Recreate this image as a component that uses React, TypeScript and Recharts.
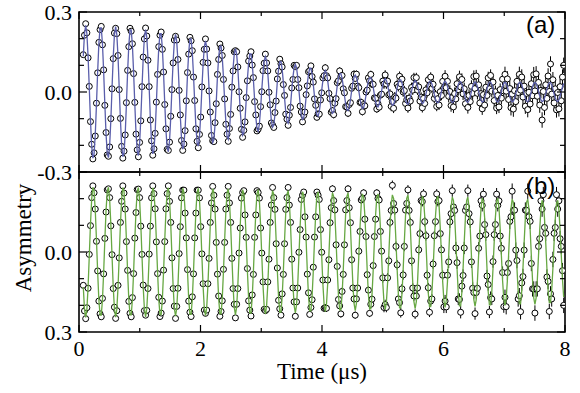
import { ComposedChart, Line, Scatter, ErrorBar, XAxis, YAxis, ReferenceArea } from 'recharts'

// time grid of the histogram bins (µs)
const T0 = 0.0706
const DT = 0.01972

const timeTicks = [0, 1, 2, 3, 4, 5, 6, 7, 8]
const asymTicks = [-0.3, -0.2, -0.1, 0, 0.1, 0.2, 0.3]

// error bar half-length for each microsecond of the time window
const errorByMicrosecond = [0.006, 0.007, 0.009, 0.011, 0.014, 0.018, 0.023, 0.029]

// panel (a): measured asymmetry
const asymA = [
  0.14, 0.213, 0.256, 0.222, 0.128, 0.021, -0.111, -0.196, -0.251, -0.228, -0.165, -0.042, 0.072, 0.186, 0.234, 0.246, 0.177, 0.083, -0.05, -0.152, -0.236, -0.241, -0.206, -0.1, 0.012,
  0.125, 0.221, 0.239, 0.219, 0.137, 0.009, -0.099, -0.204, -0.248, -0.222, -0.161, -0.04, 0.081, 0.17, 0.239, 0.228, 0.181, 0.069, -0.039, -0.158, -0.217, -0.243, -0.189, -0.108, 0.02,
  0.131, 0.199, 0.24, 0.21, 0.119, 0.02, -0.105, -0.183, -0.237, -0.213, -0.155, -0.038, 0.066, 0.17, 0.213, 0.225, 0.16, 0.075, -0.047, -0.138, -0.215, -0.219, -0.188, -0.091, 0.009,
  0.109, 0.195, 0.209, 0.195, 0.122, 0.006, -0.086, -0.182, -0.219, -0.195, -0.145, -0.033, 0.073, 0.142, 0.205, 0.192, 0.155, 0.056, -0.032, -0.138, -0.185, -0.209, -0.159, -0.094, 0.019,
  0.111, 0.16, 0.199, 0.161, 0.109, 0.004, -0.075, -0.163, -0.183, -0.186, -0.115, -0.044, 0.066, 0.122, 0.18, 0.165, 0.137, 0.047, -0.026, -0.121, -0.158, -0.185, -0.137, -0.084, 0.018,
  0.079, 0.151, 0.155, 0.151, 0.094, 0.001, -0.061, -0.14, -0.17, -0.144, -0.112, -0.021, 0.042, 0.116, 0.135, 0.151, 0.101, 0.054, -0.036, -0.086, -0.146, -0.139, -0.128, -0.055, 0.001,
  0.08, 0.108, 0.142, 0.109, 0.079, -0.001, -0.048, -0.116, -0.124, -0.133, -0.077, -0.034, 0.049, 0.078, 0.123, 0.106, 0.094, 0.028, -0.013, -0.083, -0.102, -0.125, -0.087, -0.058, 0.015,
  0.047, 0.1, 0.095, 0.1, 0.047, 0.016, -0.053, -0.075, -0.112, -0.088, -0.075, -0.01, 0.023, 0.076, 0.08, 0.098, 0.058, 0.037, -0.026, -0.05, -0.095, -0.082, -0.083, -0.03, -0.003,
  0.053, 0.061, 0.091, 0.061, 0.053, -0.005, -0.025, -0.076, -0.07, -0.085, -0.042, -0.025, 0.035, 0.042, 0.079, 0.059, 0.062, 0.012, -0.003, -0.055, -0.056, -0.08, -0.047, -0.04, 0.014,
  0.022, 0.067, 0.051, 0.067, 0.022, 0.016, -0.039, -0.039, -0.074, -0.047, -0.052, 0.0, 0.007, 0.053, 0.042, 0.066, 0.029, 0.029, -0.022, -0.024, -0.064, -0.044, -0.057, -0.012, -0.008,
  0.041, 0.03, 0.064, 0.03, 0.041, -0.011, -0.007, -0.054, -0.036, -0.061, -0.018, -0.023, 0.029, 0.02, 0.059, 0.031, 0.048, 0.0, 0.005, -0.043, -0.029, -0.06, -0.023, -0.034, 0.017,
  0.007, 0.054, 0.027, 0.054, 0.007, 0.019, -0.034, -0.019, -0.059, -0.024, -0.043, 0.008, -0.003, 0.046, 0.024, 0.056, 0.014, 0.029, -0.024, -0.01, -0.054, -0.025, -0.049, 0.001, -0.013,
  0.04, 0.016, 0.059, 0.016, 0.04, -0.016, 0.002, -0.051, -0.021, -0.056, -0.006, -0.026, 0.031, 0.009, 0.057, 0.019, 0.047, -0.007, 0.012, -0.044, -0.017, -0.058, -0.013, -0.036, 0.021,
  -0.005, 0.058, 0.013, 0.06, -0.005, 0.027, -0.041, -0.006, -0.063, -0.01, -0.049, 0.018, -0.013, 0.053, 0.012, 0.062, 0.003, 0.037, -0.032, 0.001, -0.06, -0.013, -0.056, 0.009, -0.023,
  0.048, 0.004, 0.066, 0.003, 0.049, -0.028, 0.013, -0.059, -0.008, -0.064, 0.005, -0.036, 0.04, -0.002, 0.066, 0.007, 0.056, -0.019, 0.022, -0.053, -0.005, -0.066, -0.001, -0.045, 0.031,
  -0.014, 0.065, 0.004, 0.068, -0.016, 0.036, -0.049, 0.006, -0.105, 0.002, -0.058, 0.027, -0.024, 0.06, 0.002, 0.105, -0.008, 0.046, -0.041, 0.012, -0.067, -0.002, -0.063, 0.02, -0.033,
  0.056, 0.1,
]

// panel (a): fit curve at the same bins
const fitA = [
  0.134, 0.219, 0.25, 0.219, 0.134, 0.016, -0.107, -0.202, -0.248, -0.233, -0.159, -0.047, 0.077, 0.181, 0.24, 0.24, 0.181, 0.077, -0.046, -0.158, -0.231, -0.246, -0.201, -0.106, 0.016,
  0.131, 0.215, 0.245, 0.215, 0.131, 0.015, -0.104, -0.198, -0.243, -0.228, -0.156, -0.046, 0.076, 0.175, 0.233, 0.233, 0.175, 0.074, -0.045, -0.153, -0.223, -0.238, -0.194, -0.102, 0.015,
  0.125, 0.205, 0.234, 0.205, 0.125, 0.015, -0.1, -0.189, -0.232, -0.218, -0.149, -0.044, 0.072, 0.165, 0.219, 0.219, 0.165, 0.07, -0.042, -0.144, -0.21, -0.224, -0.183, -0.096, 0.014,
  0.116, 0.189, 0.216, 0.189, 0.116, 0.014, -0.092, -0.175, -0.214, -0.201, -0.138, -0.04, 0.067, 0.149, 0.199, 0.199, 0.149, 0.063, -0.038, -0.131, -0.191, -0.203, -0.166, -0.087, 0.013,
  0.103, 0.168, 0.192, 0.168, 0.103, 0.012, -0.082, -0.155, -0.19, -0.179, -0.122, -0.036, 0.059, 0.13, 0.172, 0.172, 0.13, 0.055, -0.033, -0.113, -0.166, -0.177, -0.144, -0.076, 0.011,
  0.087, 0.143, 0.163, 0.143, 0.087, 0.01, -0.069, -0.132, -0.162, -0.152, -0.104, -0.03, 0.05, 0.108, 0.143, 0.143, 0.108, 0.046, -0.028, -0.094, -0.138, -0.147, -0.12, -0.063, 0.009,
  0.071, 0.117, 0.133, 0.117, 0.071, 0.008, -0.057, -0.108, -0.132, -0.124, -0.085, -0.025, 0.041, 0.086, 0.114, 0.114, 0.086, 0.036, -0.022, -0.075, -0.11, -0.117, -0.095, -0.05, 0.007,
  0.056, 0.091, 0.104, 0.091, 0.056, 0.007, -0.044, -0.084, -0.103, -0.097, -0.066, -0.019, 0.032, 0.067, 0.089, 0.089, 0.067, 0.028, -0.017, -0.059, -0.086, -0.091, -0.074, -0.039, 0.006,
  0.043, 0.071, 0.081, 0.071, 0.043, 0.005, -0.035, -0.066, -0.08, -0.075, -0.052, -0.015, 0.025, 0.052, 0.069, 0.069, 0.052, 0.022, -0.013, -0.045, -0.066, -0.07, -0.057, -0.03, 0.004,
  0.034, 0.055, 0.063, 0.055, 0.034, 0.004, -0.027, -0.051, -0.062, -0.059, -0.04, -0.012, 0.019, 0.041, 0.054, 0.054, 0.041, 0.017, -0.01, -0.036, -0.052, -0.056, -0.045, -0.024, 0.004,
  0.027, 0.044, 0.05, 0.044, 0.027, 0.003, -0.021, -0.04, -0.05, -0.047, -0.032, -0.009, 0.015, 0.034, 0.045, 0.045, 0.034, 0.014, -0.009, -0.029, -0.043, -0.046, -0.037, -0.02, 0.003,
  0.023, 0.038, 0.043, 0.038, 0.023, 0.003, -0.018, -0.035, -0.043, -0.04, -0.027, -0.008, 0.013, 0.03, 0.04, 0.04, 0.03, 0.013, -0.008, -0.026, -0.038, -0.041, -0.033, -0.017, 0.003,
  0.021, 0.035, 0.04, 0.035, 0.021, 0.003, -0.017, -0.032, -0.04, -0.037, -0.025, -0.007, 0.012, 0.028, 0.038, 0.038, 0.028, 0.012, -0.007, -0.025, -0.036, -0.039, -0.032, -0.017, 0.002,
  0.02, 0.033, 0.038, 0.033, 0.02, 0.002, -0.016, -0.031, -0.038, -0.035, -0.024, -0.007, 0.012, 0.028, 0.037, 0.037, 0.028, 0.012, -0.007, -0.024, -0.035, -0.038, -0.031, -0.016, 0.002,
  0.02, 0.032, 0.037, 0.032, 0.02, 0.002, -0.016, -0.03, -0.037, -0.034, -0.024, -0.007, 0.011, 0.027, 0.036, 0.036, 0.027, 0.011, -0.007, -0.024, -0.034, -0.037, -0.03, -0.016, 0.002,
  0.019, 0.032, 0.036, 0.032, 0.019, 0.002, -0.015, -0.029, -0.036, -0.033, -0.023, -0.007, 0.011, 0.026, 0.035, 0.035, 0.026, 0.011, -0.007, -0.023, -0.033, -0.036, -0.029, -0.015, 0.002,
  0.019, 0.032,
]

// panel (b): measured asymmetry (axis drawn reversed)
const asymB = [
  0.125, 0.221, 0.25, 0.209, 0.136, 0.009, -0.099, -0.204, -0.248, -0.222, -0.161, -0.04, 0.071, 0.184, 0.232, 0.243, 0.174, 0.082, -0.051, -0.15, -0.233, -0.237, -0.204, -0.098, 0.01,
  0.137, 0.207, 0.249, 0.22, 0.125, 0.022, -0.111, -0.19, -0.248, -0.221, -0.161, -0.039, 0.069, 0.185, 0.23, 0.243, 0.171, 0.081, -0.052, -0.148, -0.234, -0.236, -0.204, -0.097, 0.009,
  0.124, 0.22, 0.237, 0.219, 0.137, 0.008, -0.097, -0.203, -0.248, -0.219, -0.162, -0.038, 0.081, 0.17, 0.242, 0.229, 0.184, 0.068, -0.039, -0.162, -0.219, -0.248, -0.19, -0.111, 0.022,
  0.137, 0.203, 0.249, 0.204, 0.136, 0.006, -0.095, -0.203, -0.232, -0.232, -0.146, -0.053, 0.066, 0.184, 0.226, 0.242, 0.168, 0.082, -0.053, -0.146, -0.232, -0.232, -0.203, -0.095, 0.007,
  0.119, 0.218, 0.23, 0.218, 0.119, 0.024, -0.111, -0.184, -0.246, -0.213, -0.161, -0.036, 0.083, 0.165, 0.241, 0.223, 0.183, 0.065, -0.036, -0.161, -0.213, -0.246, -0.184, -0.111, 0.024,
  0.137, 0.196, 0.247, 0.196, 0.137, 0.004, -0.09, -0.202, -0.223, -0.23, -0.139, -0.055, 0.062, 0.183, 0.218, 0.24, 0.161, 0.084, -0.055, -0.139, -0.23, -0.223, -0.202, -0.09, 0.004,
  0.112, 0.215, 0.22, 0.215, 0.112, 0.027, -0.111, -0.176, -0.242, -0.204, -0.16, -0.031, 0.06, 0.181, 0.213, 0.237, 0.157, 0.084, -0.031, -0.16, -0.204, -0.242, -0.176, -0.111, 0.027,
  0.135, 0.187, 0.241, 0.187, 0.135, 0.001, -0.084, -0.197, -0.213, -0.225, -0.132, -0.056, 0.083, 0.153, 0.234, 0.208, 0.179, 0.057, -0.056, -0.132, -0.225, -0.213, -0.197, -0.084, 0.001,
  0.105, 0.211, 0.209, 0.211, 0.105, 0.029, -0.11, -0.166, -0.237, -0.193, -0.158, -0.027, 0.054, 0.178, 0.202, 0.232, 0.148, 0.084, -0.027, -0.158, -0.193, -0.237, -0.166, -0.11, 0.029,
  0.135, 0.176, 0.237, 0.176, 0.135, -0.003, -0.077, -0.195, -0.201, -0.222, -0.123, -0.058, 0.085, 0.143, 0.23, 0.196, 0.177, 0.051, -0.058, -0.123, -0.222, -0.201, -0.195, -0.077, -0.003,
  0.097, 0.208, 0.197, 0.208, 0.097, 0.033, -0.111, -0.156, -0.25, -0.182, -0.157, -0.021, 0.048, 0.176, 0.19, 0.228, 0.138, 0.086, -0.021, -0.157, -0.182, -0.233, -0.156, -0.111, 0.033,
  0.135, 0.165, 0.233, 0.165, 0.135, -0.008, -0.069, -0.193, -0.189, -0.218, -0.114, -0.061, 0.087, 0.134, 0.226, 0.184, 0.176, 0.045, -0.061, -0.114, -0.218, -0.189, -0.193, -0.069, -0.008,
  0.087, 0.206, 0.184, 0.206, 0.087, 0.037, -0.113, -0.144, -0.23, -0.169, -0.156, -0.015, 0.04, 0.176, 0.178, 0.226, 0.128, 0.088, -0.015, -0.156, -0.169, -0.23, -0.144, -0.113, 0.037,
  0.136, 0.152, 0.231, 0.152, 0.136, -0.014, -0.06, -0.192, -0.175, -0.217, -0.103, -0.065, 0.09, 0.122, 0.225, 0.171, 0.176, 0.036, -0.065, -0.103, -0.217, -0.175, -0.192, -0.06, -0.014,
  0.077, 0.205, 0.17, 0.205, 0.077, 0.043, -0.115, -0.132, -0.228, -0.156, -0.157, -0.007, 0.032, 0.176, 0.164, 0.224, 0.116, 0.092, -0.007, -0.157, -0.156, -0.228, -0.132, -0.115, 0.043,
  0.138, 0.139, 0.229, 0.139, 0.138, -0.021, -0.05, -0.192, -0.161, -0.215, -0.092, -0.07, 0.094, 0.11, 0.223, 0.157, 0.176, 0.028, -0.07, -0.092, -0.215, -0.161, -0.192, -0.05, -0.021,
  0.07, 0.2,
]

// panel (b): fit curve at the same bins
const fitB = [
  0.131, 0.215, 0.245, 0.215, 0.131, 0.015, -0.104, -0.198, -0.243, -0.228, -0.156, -0.046, 0.076, 0.179, 0.237, 0.237, 0.179, 0.076, -0.046, -0.156, -0.228, -0.243, -0.198, -0.104, 0.015,
  0.131, 0.214, 0.244, 0.214, 0.131, 0.015, -0.104, -0.197, -0.242, -0.227, -0.155, -0.046, 0.075, 0.178, 0.236, 0.236, 0.178, 0.075, -0.046, -0.155, -0.227, -0.242, -0.197, -0.104, 0.015,
  0.13, 0.213, 0.243, 0.213, 0.13, 0.015, -0.104, -0.197, -0.241, -0.226, -0.155, -0.045, 0.075, 0.177, 0.235, 0.235, 0.177, 0.075, -0.045, -0.155, -0.226, -0.241, -0.197, -0.104, 0.015,
  0.129, 0.211, 0.241, 0.211, 0.129, 0.015, -0.103, -0.195, -0.239, -0.224, -0.154, -0.045, 0.074, 0.176, 0.234, 0.234, 0.176, 0.074, -0.045, -0.154, -0.224, -0.239, -0.195, -0.103, 0.015,
  0.128, 0.209, 0.239, 0.209, 0.128, 0.015, -0.102, -0.193, -0.237, -0.222, -0.152, -0.045, 0.074, 0.174, 0.232, 0.232, 0.174, 0.074, -0.045, -0.152, -0.222, -0.237, -0.193, -0.102, 0.015,
  0.126, 0.207, 0.236, 0.207, 0.126, 0.015, -0.101, -0.191, -0.234, -0.219, -0.15, -0.044, 0.073, 0.172, 0.229, 0.229, 0.172, 0.073, -0.044, -0.15, -0.219, -0.234, -0.191, -0.101, 0.015,
  0.124, 0.203, 0.232, 0.203, 0.124, 0.015, -0.099, -0.188, -0.23, -0.216, -0.148, -0.043, 0.072, 0.169, 0.225, 0.225, 0.169, 0.072, -0.043, -0.148, -0.216, -0.23, -0.188, -0.099, 0.015,
  0.122, 0.2, 0.228, 0.2, 0.122, 0.014, -0.097, -0.184, -0.226, -0.212, -0.145, -0.043, 0.07, 0.166, 0.221, 0.221, 0.166, 0.07, -0.043, -0.145, -0.212, -0.226, -0.184, -0.097, 0.014,
  0.12, 0.196, 0.224, 0.196, 0.12, 0.014, -0.095, -0.181, -0.222, -0.208, -0.143, -0.042, 0.069, 0.163, 0.217, 0.217, 0.163, 0.069, -0.042, -0.143, -0.208, -0.222, -0.181, -0.095, 0.014,
  0.118, 0.193, 0.22, 0.193, 0.118, 0.014, -0.094, -0.178, -0.218, -0.205, -0.14, -0.041, 0.068, 0.16, 0.213, 0.213, 0.16, 0.068, -0.041, -0.14, -0.205, -0.218, -0.178, -0.094, 0.014,
  0.116, 0.189, 0.216, 0.189, 0.116, 0.014, -0.092, -0.175, -0.214, -0.201, -0.138, -0.04, 0.067, 0.157, 0.209, 0.209, 0.157, 0.067, -0.04, -0.138, -0.201, -0.214, -0.175, -0.092, 0.014,
  0.114, 0.186, 0.212, 0.186, 0.114, 0.013, -0.09, -0.172, -0.21, -0.197, -0.135, -0.04, 0.066, 0.155, 0.205, 0.205, 0.155, 0.066, -0.04, -0.135, -0.197, -0.21, -0.172, -0.09, 0.013,
  0.111, 0.182, 0.208, 0.182, 0.111, 0.013, -0.089, -0.168, -0.206, -0.193, -0.132, -0.039, 0.064, 0.152, 0.202, 0.202, 0.152, 0.064, -0.039, -0.132, -0.193, -0.206, -0.168, -0.089, 0.013,
  0.109, 0.179, 0.204, 0.179, 0.109, 0.013, -0.087, -0.165, -0.202, -0.19, -0.13, -0.038, 0.063, 0.149, 0.198, 0.198, 0.149, 0.063, -0.038, -0.13, -0.19, -0.202, -0.165, -0.087, 0.013,
  0.107, 0.175, 0.2, 0.175, 0.107, 0.013, -0.085, -0.162, -0.198, -0.186, -0.127, -0.037, 0.062, 0.146, 0.194, 0.194, 0.146, 0.062, -0.037, -0.127, -0.186, -0.198, -0.162, -0.085, 0.013,
  0.105, 0.172, 0.196, 0.172, 0.105, 0.012, -0.083, -0.159, -0.194, -0.182, -0.125, -0.037, 0.061, 0.143, 0.19, 0.19, 0.143, 0.061, -0.037, -0.125, -0.182, -0.194, -0.159, -0.083, 0.012,
  0.103, 0.169,
]

const SERIF = '"Liberation Serif", "Times New Roman", serif'
const SANS = '"Liberation Sans", Arial, sans-serif'

function buildRows(asym: number[], fit: number[]) {
  return asym.map((y, i) => {
    const t = T0 + i * DT
    return { t, y, fit: fit[i], err: errorByMicrosecond[Math.min(7, Math.floor(t))] }
  })
}

const rowsA = buildRows(asymA, fitA)
const rowsB = buildRows(asymB, fitB)

function TimeTick(props: any) {
  const { x, y, payload, up, labelled } = props
  const v = payload.value
  const major = v % 2 === 0
  const len = major ? 7 : 4
  return (
    <g>
      <line x1={x} x2={x} y1={y} y2={up ? y - len : y + len} stroke="#000" strokeWidth={1.2} />
      {labelled && major && (
        <text x={x} y={y + 24} textAnchor="middle" fontFamily={SERIF} fontSize={22} fill="#000">
          {v}
        </text>
      )}
    </g>
  )
}

function AsymTick(props: any) {
  const { x, y, payload, right, labels } = props
  const v = payload.value
  const major = Math.abs(v) < 1e-6 || Math.abs(Math.abs(v) - 0.3) < 1e-6
  const len = major ? 8 : 5
  const show = labels && labels.some((l: number) => Math.abs(l - v) < 1e-6)
  return (
    <g>
      <line x1={x} x2={right ? x - len : x + len} y1={y} y2={y} stroke="#000" strokeWidth={1.2} />
      {show && (
        <text x={x - 7} y={y + 7.5} textAnchor="end" fontFamily={SERIF} fontSize={22} fill="#000">
          {v.toFixed(1)}
        </text>
      )}
    </g>
  )
}

const renderPoint = (p: any) => (
  <circle cx={p.cx} cy={p.cy} r={3} fill="#fff" stroke="#000" strokeWidth={1} />
)

function Panel({ rows, color, height, margin, yLabels, reversed, timeLabels }: any) {
  const timeAxis = {
    dataKey: 't',
    type: 'number' as const,
    domain: [0, 8],
    allowDataOverflow: true,
    ticks: timeTicks,
    interval: 0,
    height: 1,
    tickSize: 0,
    tickMargin: 0,
    axisLine: false,
    tickLine: false,
  }
  const asymAxis = {
    type: 'number' as const,
    domain: [-0.3, 0.3],
    allowDataOverflow: true,
    reversed,
    ticks: asymTicks,
    interval: 0,
    tickSize: 0,
    tickMargin: 0,
    axisLine: false,
    tickLine: false,
  }
  return (
    <ComposedChart width={580} height={height} data={rows} margin={margin}>
      <XAxis xAxisId="bottom" {...timeAxis} tick={<TimeTick up labelled={timeLabels} />} />
      <XAxis xAxisId="top" orientation="top" {...timeAxis} tick={<TimeTick />} />
      <YAxis yAxisId="left" width={79} {...asymAxis} tick={<AsymTick labels={yLabels} />} />
      <YAxis yAxisId="right" orientation="right" width={15} {...asymAxis} tick={<AsymTick right />} />
      <Scatter xAxisId="bottom" yAxisId="left" dataKey="y" shape={renderPoint} isAnimationActive={false}>
        <ErrorBar dataKey="err" direction="y" width={0} stroke="#000" strokeWidth={1} isAnimationActive={false} />
      </Scatter>
      <Line
        xAxisId="bottom"
        yAxisId="left"
        dataKey="fit"
        type="linear"
        stroke={color}
        strokeWidth={1.3}
        dot={false}
        isAnimationActive={false}
        zIndex={700}
      />
      <ReferenceArea
        xAxisId="bottom"
        yAxisId="left"
        x1={0}
        x2={8}
        y1={-0.3}
        y2={0.3}
        fill="none"
        fillOpacity={0}
        stroke="#000"
        strokeWidth={1.6}
        ifOverflow="visible"
      />
    </ComposedChart>
  )
}

export default function App() {
  return (
    <div style={{ position: 'absolute', left: 0, top: 0, width: 580, height: 393, background: '#fff' }}>
      <div style={{ position: 'absolute', left: 0, top: 0 }}>
        <Panel
          rows={rowsA}
          color="#5a5eab"
          height={188}
          margin={{ top: 11, right: 0, bottom: 15, left: 0 }}
          yLabels={[0.3, 0, -0.3]}
          reversed={false}
          timeLabels={false}
        />
      </div>
      <div style={{ position: 'absolute', left: 0, top: 168 }}>
        <Panel
          rows={rowsB}
          color="#67a843"
          height={225}
          margin={{ top: 3, right: 0, bottom: 60, left: 0 }}
          yLabels={[0, 0.3]}
          reversed={true}
          timeLabels={true}
        />
      </div>
      <div
        style={{
          position: 'absolute',
          left: 23,
          top: 238,
          transform: 'translate(-50%, -50%) rotate(-90deg)',
          fontFamily: SERIF,
          fontSize: 23,
          lineHeight: 1,
          whiteSpace: 'nowrap',
        }}
      >
        Asymmetry
      </div>
      <div
        style={{
          position: 'absolute',
          left: 222,
          width: 200,
          top: 360,
          textAlign: 'center',
          fontFamily: SERIF,
          fontSize: 23,
          lineHeight: '24px',
        }}
      >
        Time (μs)
      </div>
      <div style={{ position: 'absolute', left: 526, top: 13, fontFamily: SANS, fontSize: 24, lineHeight: 1 }}>(a)</div>
      <div style={{ position: 'absolute', left: 526, top: 174, fontFamily: SANS, fontSize: 24, lineHeight: 1 }}>(b)</div>
    </div>
  )
}
